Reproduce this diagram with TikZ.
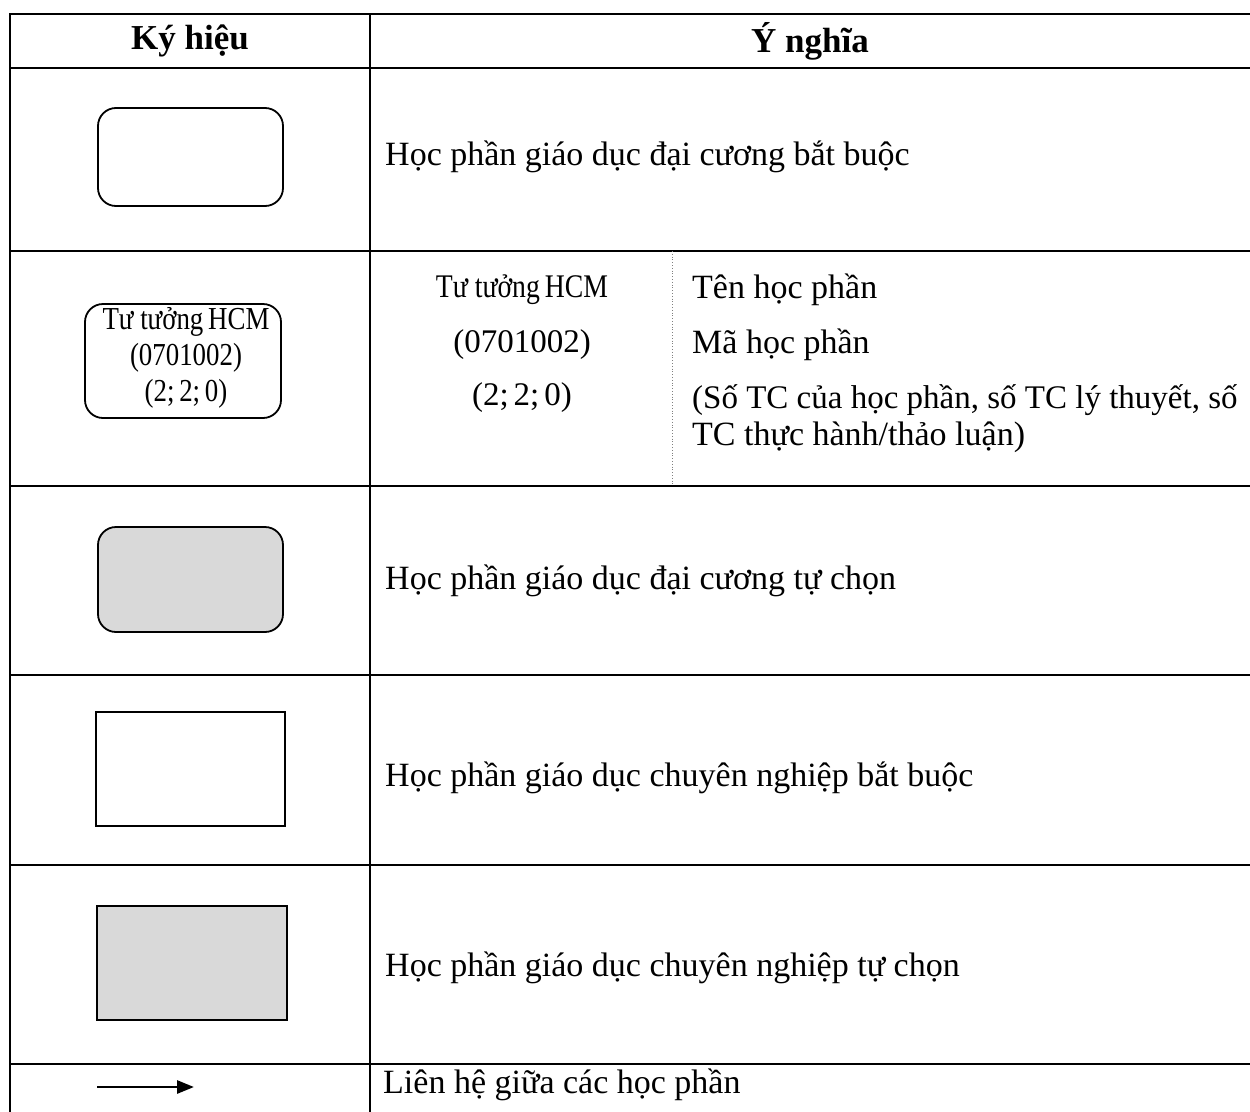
\documentclass[tikz,border=0pt]{standalone}
\usepackage{fontspec}
\setmainfont{Liberation Serif}
\newfontfamily\condfont[FakeStretch=0.84]{Liberation Serif}
\usetikzlibrary{arrows.meta}
\definecolor{boxgray}{HTML}{D9D9D9}
\tikzset{
  grid/.style={line width=2.6pt, line cap=rect},
  hdr/.style={font=\fontsize{35}{40}\selectfont\bfseries, inner sep=0pt},
  txt/.style={font=\fontsize{34}{39}\selectfont, inner sep=0pt, anchor=west},
  mid/.style={font=\fontsize{33}{38}\selectfont, inner sep=0pt},
  rbox/.style={draw, line width=1.8pt, rounded corners=18pt, inner sep=0pt},
  sbox/.style={draw, line width=1.8pt, inner sep=0pt},
  boxtxt/.style={font=\condfont\fontsize{32}{36}\selectfont, align=center}
}
\begin{document}
\begin{tikzpicture}[x=1pt,y=-1pt]
\useasboundingbox (0,0) rectangle (1250,1111);
% grid
\draw[grid] (10,1111) -- (10,14) -- (1250,14);
\draw[grid] (10,68) -- (1250,68);
\draw[grid] (10,251) -- (1250,251);
\draw[grid] (10,486) -- (1250,486);
\draw[grid] (10,675) -- (1250,675);
\draw[grid] (10,865) -- (1250,865);
\draw[grid] (10,1064) -- (1250,1064);
\draw[grid] (370,14) -- (370,1111);
\draw[gray, line width=0.8pt, dotted] (672,251) -- (672,486);
% header
\node[hdr] (h1) at (190,41) {Ký hiệu};
\node[hdr] (h2) at (810,41) {Ý nghĩa};
% row 1
\node[rbox, minimum width=185pt, minimum height=98pt] (s1) at (190.5,157) {};
\node[txt] (t1) at (385,157) {Học phần giáo dục đại cương bắt buộc};
% row 2
\node[rbox, minimum width=196pt, minimum height=114pt] (s2) at (183,361) {};
\node[boxtxt] (s2a) at (186,322) {Tư tưởng\hspace{0.15em}HCM};
\node[boxtxt] (s2b) at (186,358) {(0701002)};
\node[boxtxt] (s2c) at (186,394) {(2;\hspace{0.15em}2;\hspace{0.15em}0)};
\node[mid] (m1) at (522,290) {\condfont Tư tưởng\hspace{0.15em}HCM};
\node[mid] (m2) at (522,345) {(0701002)};
\node[mid] (m3) at (522,398) {(2;\hspace{0.15em}2;\hspace{0.15em}0)};
\node[txt] (r1) at (692,290) {Tên học phần};
\node[txt] (r2) at (692,345) {Mã học phần};
\node[txt, font=\fontsize{33}{38}\selectfont] (r3) at (692,400) {(Số TC của học phần, số TC lý thuyết, số};
\node[txt] (r4) at (692,437) {TC thực hành/thảo luận)};
% row 3
\node[rbox, fill=boxgray, minimum width=185pt, minimum height=105pt] (s3) at (190.5,579.5) {};
\node[txt] (t3) at (385,581) {Học phần giáo dục đại cương tự chọn};
% row 4
\node[sbox, minimum width=189pt, minimum height=114pt] (s4) at (190.5,769) {};
\node[txt] (t4) at (385,778) {Học phần giáo dục chuyên nghiệp bắt buộc};
% row 5
\node[sbox, fill=boxgray, minimum width=190pt, minimum height=114pt] (s5) at (192,963) {};
\node[txt] (t5) at (385,968) {Học phần giáo dục chuyên nghiệp tự chọn};
% row 6
\coordinate (a1) at (97,1087);
\coordinate (a2) at (194,1087);
\draw[line width=2.8pt, -{Triangle[length=17pt,width=13pt]}] (a1) -- (a2);
\node[txt] (t6) at (383,1085) {Liên hệ giữa các học phần};
\end{tikzpicture}
\end{document}
